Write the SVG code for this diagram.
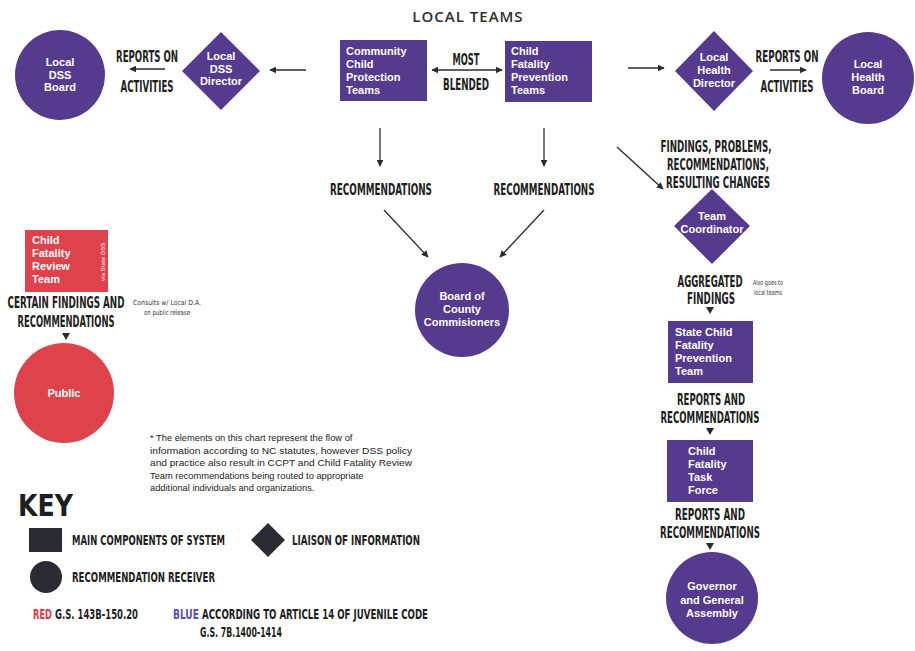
<svg xmlns="http://www.w3.org/2000/svg" width="915" height="651" viewBox="0 0 915 651">
<defs>
<marker id="ah" viewBox="0 0 10 10" refX="9" refY="5" markerWidth="7" markerHeight="7" orient="auto-start-reverse" markerUnits="userSpaceOnUse">
<path d="M0,0 L10,5 L0,10 z" fill="#2b2b2b"/>
</marker>
<style>
.p{fill:#553a8e}
.r{fill:#de434b}
.k{fill:#2b2b33}
.w{font-family:"Liberation Sans","Open Sans",sans-serif;font-weight:700;font-size:11px;fill:#ffffff}
.wc{font-family:"Liberation Sans","Open Sans",sans-serif;font-weight:700;font-size:11px;fill:#ffffff;text-anchor:middle}
.l{font-family:"DejaVu Sans Condensed","DejaVu Sans",sans-serif;font-weight:700;font-size:15px;fill:#1e1e1e;text-anchor:middle}
.ks{font-family:"DejaVu Sans Condensed","DejaVu Sans",sans-serif;font-weight:700;font-size:14px;fill:#1e1e1e}
.sm{font-family:"DejaVu Sans Condensed","DejaVu Sans",sans-serif;font-size:7px;fill:#333;text-anchor:middle}
.fn{font-family:"Liberation Sans","Open Sans",sans-serif;font-size:9.3px;fill:#222}
.ln{stroke:#2b2b2b;stroke-width:1.3;fill:none}
</style>
</defs>
<rect width="915" height="651" fill="#ffffff"/>
<text x="468" y="22" font-family="Open Sans,Liberation Sans,sans-serif" font-size="15" font-weight="600" letter-spacing="1" fill="#2e2e2e" text-anchor="middle">LOCAL TEAMS</text>

<g id="connectors">
<line class="ln" x1="165" y1="69" x2="130" y2="69" marker-end="url(#ah)"/>
<line class="ln" x1="306" y1="70" x2="270" y2="70" marker-end="url(#ah)"/>
<line class="ln" x1="432" y1="70" x2="502" y2="70" marker-start="url(#ah)" marker-end="url(#ah)"/>
<line class="ln" x1="628" y1="68" x2="664" y2="68" marker-end="url(#ah)"/>
<line class="ln" x1="770" y1="70" x2="806" y2="70" marker-end="url(#ah)"/>
<line class="ln" x1="380" y1="128" x2="380" y2="166" marker-end="url(#ah)"/>
<line class="ln" x1="544" y1="128" x2="544" y2="166" marker-end="url(#ah)"/>
<line class="ln" x1="384" y1="210" x2="428" y2="257" marker-end="url(#ah)"/>
<line class="ln" x1="544" y1="210" x2="500" y2="257" marker-end="url(#ah)"/>
<line class="ln" x1="617" y1="147" x2="663" y2="189" marker-end="url(#ah)"/>
<polygon points="62,333 70,333 66,340" fill="#2b2b2b"/>
<polygon points="706,307 714,307 710,314" fill="#2b2b2b"/>
<polygon points="706,428 714,428 710,435" fill="#2b2b2b"/>
<polygon points="706,543 714,543 710,550" fill="#2b2b2b"/>
</g>

<g id="local-dss-board">
<circle class="p" cx="60" cy="75" r="45"/>
<text class="wc" x="60" y="66">Local</text>
<text class="wc" x="60" y="78.5">DSS</text>
<text class="wc" x="60" y="91">Board</text>
</g>
<g id="reports-left">
<text class="l" transform="translate(147 62) scale(0.65 1)" textLength="95.4" lengthAdjust="spacingAndGlyphs">REPORTS ON</text>
<text class="l" transform="translate(147 92) scale(0.65 1)" textLength="81.5" lengthAdjust="spacingAndGlyphs">ACTIVITIES</text>
</g>
<g id="local-dss-director">
<polygon class="p" points="221,32 260,71 221,110 182,71"/>
<text class="wc" x="221" y="60">Local</text>
<text class="wc" x="221" y="72.5">DSS</text>
<text class="wc" x="221" y="85">Director</text>
</g>
<g id="ccpt">
<rect class="p" x="340" y="40" width="87" height="61"/>
<text class="w" x="346" y="55">Community</text>
<text class="w" x="346" y="68">Child</text>
<text class="w" x="346" y="81">Protection</text>
<text class="w" x="346" y="94">Teams</text>
</g>
<g id="most-blended">
<text class="l" transform="translate(466 65) scale(0.65 1)" textLength="41.5" lengthAdjust="spacingAndGlyphs">MOST</text>
<text class="l" transform="translate(466 90) scale(0.65 1)" textLength="70.8" lengthAdjust="spacingAndGlyphs">BLENDED</text>
</g>
<g id="cfpt">
<rect class="p" x="505" y="41" width="87" height="61"/>
<text class="w" x="511" y="55">Child</text>
<text class="w" x="511" y="68">Fatality</text>
<text class="w" x="511" y="81">Prevention</text>
<text class="w" x="511" y="94">Teams</text>
</g>
<g id="local-health-director">
<polygon class="p" points="714,31 753,71 714,111 675,71"/>
<text class="wc" x="714" y="61">Local</text>
<text class="wc" x="714" y="74">Health</text>
<text class="wc" x="714" y="87">Director</text>
</g>
<g id="reports-right">
<text class="l" transform="translate(787 62) scale(0.65 1)" textLength="96.9" lengthAdjust="spacingAndGlyphs">REPORTS ON</text>
<text class="l" transform="translate(787 92) scale(0.65 1)" textLength="81.5" lengthAdjust="spacingAndGlyphs">ACTIVITIES</text>
</g>
<g id="local-health-board">
<circle class="p" cx="868" cy="78" r="46"/>
<text class="wc" x="868" y="68">Local</text>
<text class="wc" x="868" y="81">Health</text>
<text class="wc" x="868" y="94">Board</text>
</g>
<g id="recommendations-labels">
<text class="l" transform="translate(381 195) scale(0.65 1)" textLength="156.9" lengthAdjust="spacingAndGlyphs">RECOMMENDATIONS</text>
<text class="l" transform="translate(544 195) scale(0.65 1)" textLength="155.4" lengthAdjust="spacingAndGlyphs">RECOMMENDATIONS</text>
</g>
<g id="board-of-county">
<circle class="p" cx="462" cy="310" r="47"/>
<text class="wc" x="462" y="300">Board of</text>
<text class="wc" x="462" y="313">County</text>
<text class="wc" x="462" y="326">Commisioners</text>
</g>
<g id="findings-label">
<text class="l" transform="translate(716 152) scale(0.65 1)" textLength="170.8" lengthAdjust="spacingAndGlyphs">FINDINGS, PROBLEMS,</text>
<text class="l" transform="translate(718 170) scale(0.65 1)" textLength="156.9" lengthAdjust="spacingAndGlyphs">RECOMMENDATIONS,</text>
<text class="l" transform="translate(718 188) scale(0.65 1)" textLength="160" lengthAdjust="spacingAndGlyphs">RESULTING CHANGES</text>
</g>
<g id="team-coordinator">
<polygon class="p" points="712,189 750,226 712,264 674,226"/>
<text class="wc" x="712" y="220">Team</text>
<text class="wc" x="712" y="233">Coordinator</text>
</g>
<g id="aggregated-findings">
<text class="l" transform="translate(710 287) scale(0.65 1)" textLength="100" lengthAdjust="spacingAndGlyphs">AGGREGATED</text>
<text class="l" transform="translate(711 304) scale(0.65 1)" textLength="73.8" lengthAdjust="spacingAndGlyphs">FINDINGS</text>
<text class="sm" transform="translate(768 285) scale(0.8 1)" textLength="37.5" lengthAdjust="spacingAndGlyphs">Also goes to</text>
<text class="sm" transform="translate(768 295) scale(0.8 1)" textLength="35" lengthAdjust="spacingAndGlyphs">local teams</text>
</g>
<g id="state-cfpt">
<rect class="p" x="668" y="321" width="85" height="62"/>
<text class="w" x="675" y="336">State Child</text>
<text class="w" x="675" y="349">Fatality</text>
<text class="w" x="675" y="362">Prevention</text>
<text class="w" x="675" y="375">Team</text>
</g>
<g id="reports-recs-1">
<text class="l" transform="translate(711 405) scale(0.65 1)" textLength="104.6" lengthAdjust="spacingAndGlyphs">REPORTS AND</text>
<text class="l" transform="translate(710 423) scale(0.65 1)" textLength="152.3" lengthAdjust="spacingAndGlyphs">RECOMMENDATIONS</text>
</g>
<g id="cf-task-force">
<rect class="p" x="667" y="440" width="86" height="62"/>
<text class="w" x="688" y="455">Child</text>
<text class="w" x="688" y="468">Fatality</text>
<text class="w" x="688" y="481">Task</text>
<text class="w" x="688" y="494">Force</text>
</g>
<g id="reports-recs-2">
<text class="l" transform="translate(710 520) scale(0.65 1)" textLength="107.7" lengthAdjust="spacingAndGlyphs">REPORTS AND</text>
<text class="l" transform="translate(710 538) scale(0.65 1)" textLength="153.8" lengthAdjust="spacingAndGlyphs">RECOMMENDATIONS</text>
</g>
<g id="governor">
<circle class="p" cx="712" cy="598" r="46"/>
<text class="wc" x="712" y="590">Governor</text>
<text class="wc" x="712" y="603.5">and General</text>
<text class="wc" x="712" y="617">Assembly</text>
</g>

<g id="cfrt">
<rect class="r" x="25" y="230" width="83" height="62"/>
<text class="w" x="32" y="244">Child</text>
<text class="w" x="32" y="257">Fatality</text>
<text class="w" x="32" y="270">Review</text>
<text class="w" x="32" y="283">Team</text>
<text x="103" y="262" transform="rotate(-90 103 262)" font-family="Liberation Sans,sans-serif" font-size="6" font-weight="700" fill="#f3c9cc" text-anchor="middle" dominant-baseline="middle">via State DSS</text>
</g>
<g id="certain-findings">
<text class="l" transform="translate(66 308) scale(0.65 1)" textLength="180" lengthAdjust="spacingAndGlyphs">CERTAIN FINDINGS AND</text>
<text class="l" transform="translate(66 327) scale(0.65 1)" textLength="149.2" lengthAdjust="spacingAndGlyphs">RECOMMENDATIONS</text>
<text class="sm" transform="translate(167 305) scale(0.8 1)" textLength="85" lengthAdjust="spacingAndGlyphs">Consults w/ Local D.A.</text>
<text class="sm" transform="translate(167 315) scale(0.8 1)" textLength="57.5" lengthAdjust="spacingAndGlyphs">on public release</text>
</g>
<g id="public">
<circle class="r" cx="64" cy="393" r="50"/>
<text class="wc" x="64" y="397">Public</text>
</g>

<g id="footnote">
<text class="fn" x="150" y="441">* The elements on this chart represent the flow of</text>
<text class="fn" x="150" y="453.5" textLength="262" lengthAdjust="spacingAndGlyphs">information according to NC statutes, however DSS policy</text>
<text class="fn" x="150" y="466" textLength="262" lengthAdjust="spacingAndGlyphs">and practice also result in CCPT and Child Fatality Review</text>
<text class="fn" x="150" y="478.5">Team recommendations being routed to appropriate</text>
<text class="fn" x="150" y="491">additional individuals and organizations.</text>
</g>

<g id="key">
<text x="18" y="516" font-family="DejaVu Sans Condensed,DejaVu Sans,sans-serif" font-weight="700" font-size="30" fill="#1e1e1e" textLength="55" lengthAdjust="spacingAndGlyphs">KEY</text>
<rect class="k" x="29" y="528" width="33" height="24"/>
<text class="ks" transform="translate(72 545) scale(0.7 1)" textLength="218.6" lengthAdjust="spacingAndGlyphs">MAIN COMPONENTS OF SYSTEM</text>
<polygon class="k" points="268,523 285,540 268,557 251,540"/>
<text class="ks" transform="translate(292 545) scale(0.7 1)" textLength="182.9" lengthAdjust="spacingAndGlyphs">LIAISON OF INFORMATION</text>
<circle class="k" cx="46" cy="577" r="16"/>
<text class="ks" transform="translate(72 582) scale(0.7 1)" textLength="204.3" lengthAdjust="spacingAndGlyphs">RECOMMENDATION RECEIVER</text>
<text class="ks" transform="translate(33 619) scale(0.7 1)" textLength="27.1" lengthAdjust="spacingAndGlyphs" style="fill:#e03a45">RED</text>
<text class="ks" transform="translate(55 619) scale(0.7 1)" textLength="118.6" lengthAdjust="spacingAndGlyphs">G.S. 143B-150.20</text>
<text class="ks" transform="translate(173 619) scale(0.7 1)" textLength="37.1" lengthAdjust="spacingAndGlyphs" style="fill:#5b4fb3">BLUE</text>
<text class="ks" transform="translate(202 619) scale(0.7 1)" textLength="322.9" lengthAdjust="spacingAndGlyphs">ACCORDING TO ARTICLE 14 OF JUVENILE CODE</text>
<text class="ks" transform="translate(200 637) scale(0.7 1)" textLength="117.1" lengthAdjust="spacingAndGlyphs">G.S. 7B.1400-1414</text>
</g>
</svg>
